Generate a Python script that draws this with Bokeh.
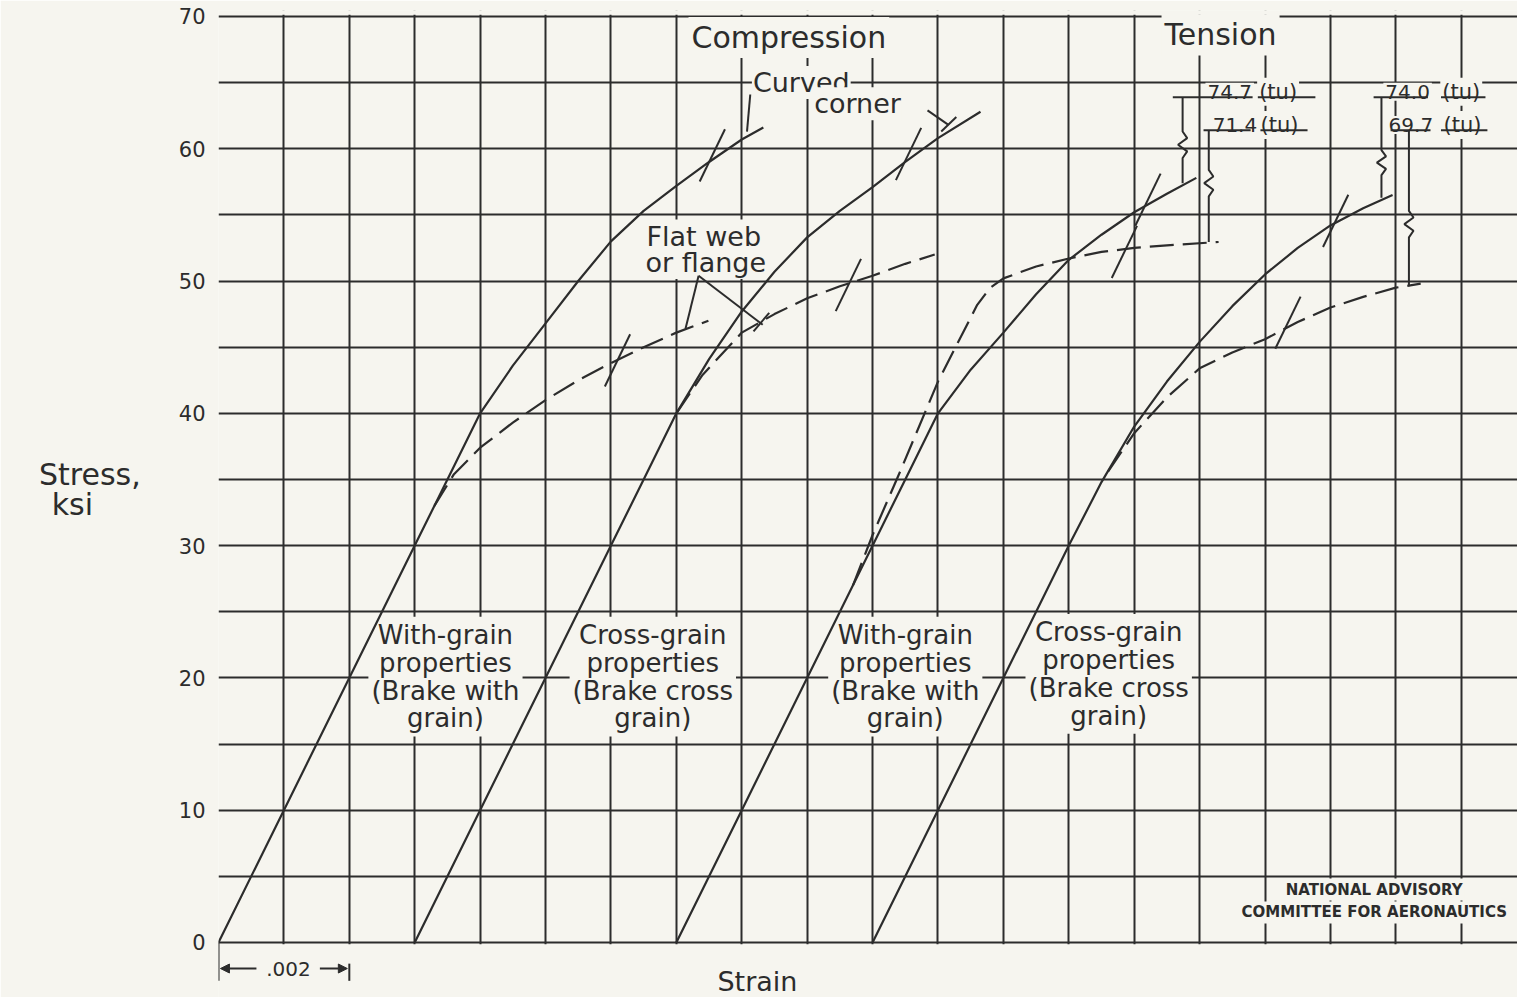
from bokeh.plotting import figure
from bokeh.models import FixedTicker, Arrow, NormalHead
from bokeh.core.properties import value
from bokeh.embed import file_html
from bokeh.resources import INLINE

# ---------------- data (strain, stress in ksi) ----------------
# Compression - with-grain properties (brake with grain)
cw_corner_strain = [0.0, 0.0030, 0.0035, 0.0040, 0.0045, 0.0050, 0.0055, 0.0060, 0.0065, 0.0070, 0.0075, 0.0080, 0.00833]
cw_corner_stress = [0.0, 30.0, 35.0, 40.0, 43.6, 46.8, 50.0, 53.0, 55.3, 57.2, 59.0, 60.7, 61.6]
cw_flat_strain = [0.0033, 0.0036, 0.0040, 0.0045, 0.0050, 0.0055, 0.0060, 0.0065, 0.0070, 0.00749]
cw_flat_stress = [33.0, 35.4, 37.4, 39.3, 41.0, 42.5, 43.8, 45.0, 46.1, 47.0]
# Compression - cross-grain properties (brake cross grain)
cc_corner_strain = [0.0030, 0.0060, 0.0065, 0.0070, 0.0075, 0.0080, 0.0085, 0.0090, 0.0095, 0.0100, 0.0105, 0.0110, 0.01165]
cc_corner_stress = [0.0, 30.0, 35.0, 40.0, 44.1, 47.7, 50.7, 53.3, 55.3, 57.1, 59.0, 60.8, 62.8]
cc_flat_strain = [0.0070, 0.0074, 0.0080, 0.0085, 0.0090, 0.0095, 0.0100, 0.0105, 0.01095]
cc_flat_stress = [40.0, 42.9, 46.1, 47.5, 48.7, 49.6, 50.4, 51.3, 52.0]
# Tension - with-grain properties (brake with grain)
tw_corner_strain = [0.0070, 0.0105, 0.0110, 0.0115, 0.0120, 0.0125, 0.0130, 0.0135, 0.0140, 0.0145, 0.01495]
tw_corner_stress = [0.0, 35.0, 40.0, 43.3, 46.1, 49.0, 51.6, 53.5, 55.2, 56.6, 57.8]
tw_flat_strain = [0.0097, 0.0100, 0.01043, 0.0110, 0.0113, 0.0116, 0.0118, 0.0120, 0.0125, 0.0130, 0.0135, 0.0140, 0.0145, 0.01529]
tw_flat_stress = [27.0, 30.8, 35.7, 42.4, 45.3, 48.2, 49.5, 50.2, 51.1, 51.7, 52.2, 52.5, 52.7, 52.95]
# Tension - cross-grain properties (brake cross grain)
tc_corner_strain = [0.0100, 0.0130, 0.0135, 0.0140, 0.0145, 0.0150, 0.0155, 0.0160, 0.0165, 0.0170, 0.0175, 0.01795]
tc_corner_stress = [0.0, 30.0, 34.8, 39.0, 42.4, 45.4, 48.1, 50.5, 52.5, 54.2, 55.5, 56.5]
tc_flat_strain = [0.0136, 0.0140, 0.0145, 0.0150, 0.0155, 0.0160, 0.0165, 0.0170, 0.0175, 0.0180, 0.01838]
tc_flat_stress = [35.6, 38.5, 41.2, 43.4, 44.6, 45.6, 46.9, 48.0, 48.8, 49.5, 49.8]

# short slash marks crossing the curves
slash_strain = [0.00755, 0.00610, 0.01055, 0.00963, 0.01421, 0.01385, 0.01708, 0.01635]
slash_stress = [59.5, 44.0, 59.6, 49.7, 56.15, 52.2, 54.55, 46.85]

# ultimate tensile strengths, ksi (off the chart)
ult_values = ["74.7", "71.4", "74.0", "69.7"]
ult_suffix = "(tu)"

y_tick_values = [0, 10, 20, 30, 40, 50, 60, 70]
y_tick_labels = {v: str(v) for v in y_tick_values}

# ---------------- styling ----------------
PAPER = "#f6f5ef"
INK = "#2c2c2c"
FONT = "DejaVu Sans"
NB = "\u00a0"

p = figure(width=1517, height=997, output_backend="svg", toolbar_location=None,
           x_range=(0, 0.01986), y_range=(-4.16, 70.45),
           min_border_left=218, min_border_right=0, min_border_top=10, min_border_bottom=0,
           x_axis_location=None, background_fill_color=PAPER, border_fill_color=PAPER,
           outline_line_color=None)

p.xgrid.ticker = FixedTicker(ticks=[i * 0.001 for i in range(20)])
p.ygrid.ticker = FixedTicker(ticks=[i * 5 for i in range(15)])
for g in (p.xgrid[0], p.ygrid[0]):
    g.grid_line_color = INK
    g.grid_line_width = 2
    g.grid_line_alpha = 1.0

ax = p.yaxis[0]
ax.ticker = FixedTicker(ticks=y_tick_values)
ax.major_label_overrides = y_tick_labels
ax.axis_line_color = None
ax.major_tick_line_color = None
ax.minor_tick_line_color = None
ax.major_tick_out = 0
ax.major_tick_in = 0
ax.major_label_standoff = 13
ax.major_label_text_font = FONT
ax.major_label_text_font_size = "21px"
ax.major_label_text_color = INK
ax.axis_label = "Stress,\nksi" + NB * 5 + "\n" + NB
ax.axis_label_orientation = "horizontal"
ax.axis_label_standoff = 35
ax.axis_label_text_font = FONT
ax.axis_label_text_font_size = "30px"
ax.axis_label_text_font_style = "normal"
ax.axis_label_text_color = INK
ax.axis_label_text_line_height = 0.85

# paper covers outside the 0..70 grid
p.quad(left=-0.001, right=0.021, bottom=-5.0, top=-0.13, fill_color=PAPER, line_color=None)
p.quad(left=-0.001, right=0.021, bottom=70.13, top=72, fill_color=PAPER, line_color=None)


def txt(x, y, s, size, align="center", baseline="middle", bold=False, lh=0.93, pad=3, bg=True):
    p.text(x=[x], y=[y], text=[s], text_font=value(FONT), text_font_size=f"{size}px",
           text_font_style="bold" if bold else "normal",
           text_align=align, text_baseline=baseline, text_color=INK, text_line_height=lh,
           background_fill_color=PAPER if bg else None, padding=pad)


# texts (drawn before the curves so that their paper background hides the grid only)
txt(0.00872, 68.4, "Compression", 30)
txt(0.01532, 68.6, "Tension", 30)
txt(0.00891, 65.0, "Curved", 27, pad=1)
txt(0.00977, 63.4, "corner", 27, pad=1)
txt(0.00742, 53.4, "Flat web", 27, pad=1)
txt(0.00745, 51.4, "or flange", 27, pad=1)
txt(0.00347, 20.1, "With-grain\nproperties\n(Brake with\ngrain)", 26)
txt(0.00664, 20.1, "Cross-grain\nproperties\n(Brake cross\ngrain)", 26)
txt(0.01050, 20.1, "With-grain\nproperties\n(Brake with\ngrain)", 26)
txt(0.01361, 20.3, "Cross-grain\nproperties\n(Brake cross\ngrain)", 26)
txt(0.01767, 4.0, "NATIONAL ADVISORY", 15, bold=True, pad=2)
txt(0.01767, 2.27, "COMMITTEE FOR AERONAUTICS", 15, bold=True, pad=2)
txt(0.00107, -1.97, ".002", 20, pad=1)
txt(0.00824, -2.95, "Strain", 27, bg=False)

# ultimate strength notes (value + "(tu)", both underlined)
ult_pos = [(0.01546, 64.3, 0.01620), (0.01554, 61.8, 0.01622),
           (0.01818, 64.3, 0.01900), (0.01823, 61.8, 0.01902)]
for v, (xv, yb, xs) in zip(ult_values, ult_pos):
    txt(xv, yb, v, 20, baseline="alphabetic", pad=2)
    txt(xs, yb, ult_suffix, 21, baseline="alphabetic", pad=2)

# ---------------- curves ----------------
LW = 2.2
DASH = "24 9"
p.line(cw_corner_strain, cw_corner_stress, line_color=INK, line_width=LW)
p.line(cw_flat_strain, cw_flat_stress, line_color=INK, line_width=LW, line_dash=DASH)
p.line(cc_corner_strain, cc_corner_stress, line_color=INK, line_width=LW)
p.line(cc_flat_strain, cc_flat_stress, line_color=INK, line_width=LW, line_dash=DASH)
p.line(tw_corner_strain, tw_corner_stress, line_color=INK, line_width=LW)
p.line(tw_flat_strain, tw_flat_stress, line_color=INK, line_width=LW, line_dash=DASH)
p.line(tc_corner_strain, tc_corner_stress, line_color=INK, line_width=LW)
p.line(tc_flat_strain, tc_flat_stress, line_color=INK, line_width=LW, line_dash=DASH)

p.scatter(slash_strain, slash_stress, marker="dash", size=58, angle=1.12,
          line_color=INK, line_width=2)

# leaders
p.multi_line(xs=[[0.00813, 0.00808], [0.01084, 0.01116], [0.01105, 0.01128],
                 [0.00734, 0.00714], [0.00734, 0.00832], [0.00818, 0.00842]],
             ys=[[64.1, 61.3], [62.9, 61.8], [61.3, 62.4],
                 [50.4, 46.4], [50.4, 46.7], [46.2, 47.6]],
             line_color=INK, line_width=2)

# underlines
p.multi_line(xs=[[0.01459, 0.01581], [0.01589, 0.01677], [0.01506, 0.01578], [0.01593, 0.01665],
                 [0.01766, 0.01849], [0.01869, 0.01937], [0.01792, 0.01853], [0.01869, 0.01940]],
             ys=[[63.9, 63.9], [63.9, 63.9], [61.4, 61.4], [61.4, 61.4],
                 [63.9, 63.9], [63.9, 63.9], [61.4, 61.4], [61.4, 61.4]],
             line_color=INK, line_width=2)


def breakline(x, y_top, y_bot, z_top, z_bot):
    a = 0.00007
    n = 4
    dz = (z_top - z_bot) / n
    xs = [x, x, x + a, x - a, x + a, x, x]
    ys = [y_top, z_top, z_top - dz, z_top - 2 * dz, z_top - 3 * dz, z_bot, y_bot]
    return xs, ys


bl = [breakline(0.01474, 63.9, 57.4, 61.3, 59.3),
      breakline(0.01514, 61.4, 52.95, 58.4, 56.4),
      breakline(0.01778, 63.9, 56.3, 59.9, 58.0),
      breakline(0.01820, 61.4, 49.6, 55.3, 53.3)]
p.multi_line(xs=[b[0] for b in bl], ys=[b[1] for b in bl], line_color=INK, line_width=2)

# .002 dimension
p.multi_line(xs=[[0.0, 0.0], [0.002, 0.002]], ys=[[0.0, -2.9], [-1.6, -2.9]],
             line_color=INK, line_width=2)
head = dict(size=9, fill_color=INK, line_color=INK)
p.add_layout(Arrow(end=NormalHead(**head), x_start=0.00058, y_start=-1.97, x_end=0.00003, y_end=-1.97,
                   line_color=INK, line_width=2))
p.add_layout(Arrow(end=NormalHead(**head), x_start=0.00155, y_start=-1.97, x_end=0.00197, y_end=-1.97,
                   line_color=INK, line_width=2))

open("out.html", "w").write(file_html(p, INLINE))
